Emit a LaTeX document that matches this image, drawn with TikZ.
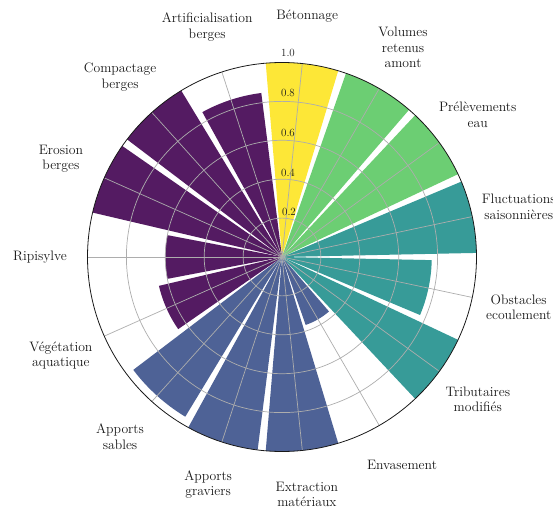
\documentclass[tikz,border=0pt]{standalone}
\usepackage{fontspec}
\definecolor{cpur}{HTML}{541B62}
\definecolor{cblu}{HTML}{4E6296}
\definecolor{ctea}{HTML}{379B98}
\definecolor{cgre}{HTML}{6CCE73}
\definecolor{cyel}{HTML}{FDE737}
\begin{document}
\begin{tikzpicture}[x=1pt,y=1pt,
  lbl/.style={font=\fontsize{13.7}{15.5}\selectfont, align=center, text=black!90},
  ticklbl/.style={font=\fontsize{11}{12}\selectfont, text=black!90},
  gridl/.style={draw=black!32, line width=0.7pt}]
\useasboundingbox (-282,-253) rectangle (271,257);
\def\R{194.5}
% bars
\foreach \ang/\val/\col in {84/1/cyel, 60/1/cgre, 36/1/cgre, 12/1/ctea, -12/0.77/ctea,
  -36/1/ctea, -60/0.37/cblu, -84/1/cblu, -108/1/cblu, -132/0.96/cblu,
  -156/0.65/cpur, 180/0.6/cpur, 156/1/cpur, 132/1/cpur, 108/0.85/cpur} {
  \fill[\col] (0,0) -- ({\ang-10.8}:{\val*\R pt}) arc[start angle={\ang-10.8}, end angle={\ang+10.8}, radius={\val*\R pt}] -- cycle;
}
% grid
\foreach \f in {0.2,0.4,0.6,0.8} {
  \draw[gridl] (0,0) circle[radius={\f*\R pt}];
}
\foreach \ang in {84,60,36,12,-12,-36,-60,-84,-108,-132,-156,180,156,132,108} {
  \draw[gridl] (0,0) -- (\ang:\R pt);
}
\draw[black!90, line width=0.8pt] (0,0) circle[radius=\R pt];
% tick labels
\node[ticklbl] (t10) at (6,203.7) {1.0};
\node[ticklbl] (t08) at (6,163.7) {0.8};
\node[ticklbl] (t06) at (6,123.7) {0.6};
\node[ticklbl] (t04) at (6,84.3) {0.4};
\node[ticklbl] (t02) at (7,45.3) {0.2};
% category labels
\def\L{242pt}
\node[lbl] (l0) at (84:\L) {Bétonnage};
\node[lbl] (l1) at (60:\L) {Volumes\\retenus\\amont};
\node[lbl] (l2) at (36:\L) {Prélèvements\\eau};
\node[lbl] (l3) at (12:\L) {Fluctuations\\saisonnières};
\node[lbl] (l4) at (-12:\L) {Obstacles\\ecoulement};
\node[lbl] (l5) at (-36:\L) {Tributaires\\modifiés};
\node[lbl] (l6) at (-60:240pt) {Envasement};
\node[lbl] (l7) at (-84:238.5pt) {Extraction\\matériaux};
\node[lbl] (l8) at (-108:239pt) {Apports\\graviers};
\node[lbl] (l9) at (-132:\L) {Apports\\sables};
\node[lbl] (l10) at (-156:\L) {Végétation\\aquatique};
\node[lbl] (l11) at (180:\L) {Ripisylve};
\node[lbl] (l12) at (156:\L) {Erosion\\berges};
\node[lbl] (l13) at (132:\L) {Compactage\\berges};
\node[lbl] (l14) at (108:\L) {Artificialisation\\berges};
\end{tikzpicture}
\end{document}
